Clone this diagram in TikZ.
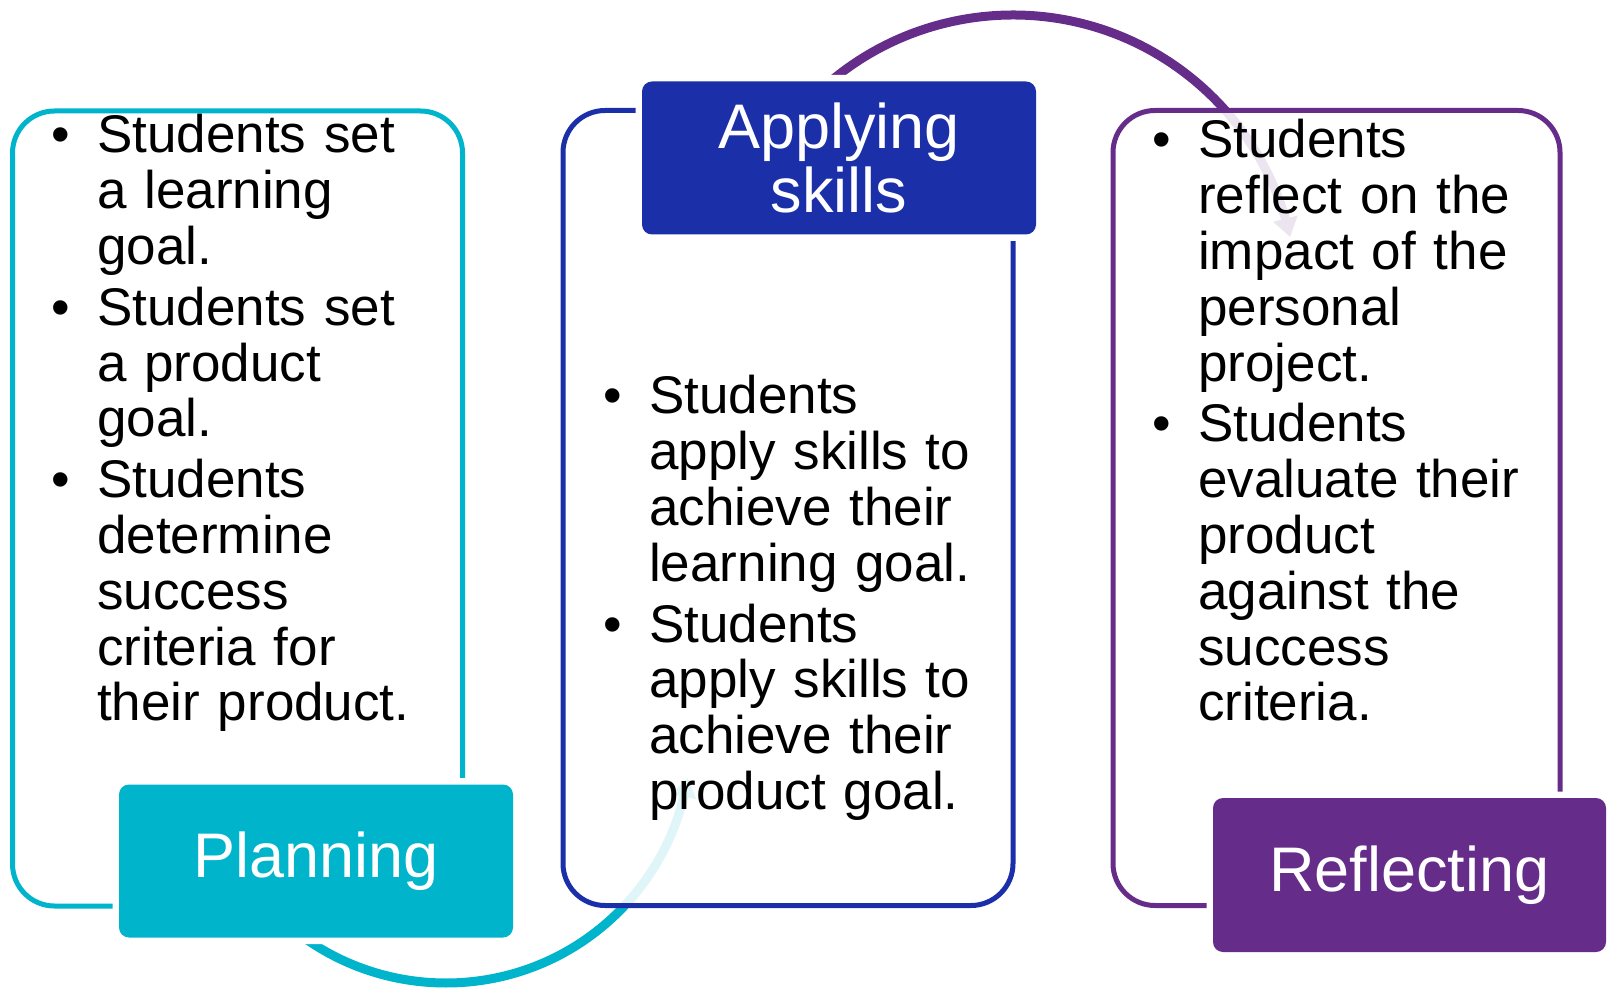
\documentclass[tikz,border=0pt]{standalone}
\usepackage{fontspec}
\setmainfont{Liberation Sans}
\usepackage{tikz}
\usetikzlibrary{arrows.meta, bending, positioning}

\definecolor{plancyan}{HTML}{00B4CC}
\definecolor{applyblue}{HTML}{1B2FA9}
\definecolor{reflectpurple}{HTML}{652D89}

\newcommand{\puce}[1]{\raggedright\hangindent=46pt\hangafter=1\noindent\makebox[46pt][l]{\textbullet}#1\par}

\tikzset{
  outlinebox/.style={line width=5pt, rounded corners=42pt, fill=white,
    fill opacity=0.88, draw opacity=1, minimum width=450pt, minimum height=795pt},
  stagelabel/.style={rounded corners=10pt, text=white, align=center,
    minimum width=394pt, minimum height=153pt, inner sep=0pt,
    font=\fontsize{63}{64}\selectfont, preaction={draw=white, line width=13pt}},
  bullettext/.style={anchor=base west, inner sep=0pt, text width=440pt,
    font=\fontsize{53}{55.8}\selectfont},
  flowarc/.style={line width=9pt, -{Triangle[width=24pt,length=19pt]}}
}

\begin{document}
\begin{tikzpicture}[x=1pt, y=1pt]
  \useasboundingbox (0,0) rectangle (1608,989);

  % arcs between the stages
  \coordinate (plancentre) at (446,251);
  \coordinate (applycentre) at (1013,690);
  \draw[flowarc, plancyan] ([shift={(225:245)}]plancentre) arc[start angle=225, end angle=350.6, radius=245];
  \draw[flowarc, reflectpurple] ([shift={(140:284)}]applycentre) arc[start angle=140, end angle=12.6, radius=284];

  % boxes
  \node[outlinebox, draw=plancyan] (planbox) at (237.5,480.5) {};
  \node[outlinebox, draw=applyblue] (applybox) at (788,481) {};
  \node[outlinebox, draw=reflectpurple, minimum width=447pt] (reflectbox) at (1336.5,481) {};

  % texts
  \node[bullettext] (plantext) at (51,836) {%
    \puce{Students set\newline a learning\newline goal.}\vskip5pt
    \puce{Students set\newline a product\newline goal.}\vskip5pt
    \puce{Students\newline determine\newline success\newline criteria for\newline their product.}};
  \node[bullettext] (applytext) at (603,575) {%
    \puce{Students\newline apply skills to\newline achieve their\newline learning goal.}\vskip5pt
    \puce{Students\newline apply skills to\newline achieve their\newline product goal.}};
  \node[bullettext] (reflecttext) at (1152,831) {%
    \puce{Students\newline reflect on the\newline impact of the\newline personal\newline project.}\vskip5pt
    \puce{Students\newline evaluate their\newline product\newline against the\newline success\newline criteria.}};

  % stage names
  \node[stagelabel, fill=plancyan] (plan) at (316,128) {Planning};
  \node[stagelabel, fill=applyblue] (apply) at (839,831) {Applying\\skills};
  \node[stagelabel, fill=reflectpurple, minimum width=393pt, minimum height=154pt] (reflect) at (1409.5,114) {Reflecting};
\end{tikzpicture}
\end{document}
